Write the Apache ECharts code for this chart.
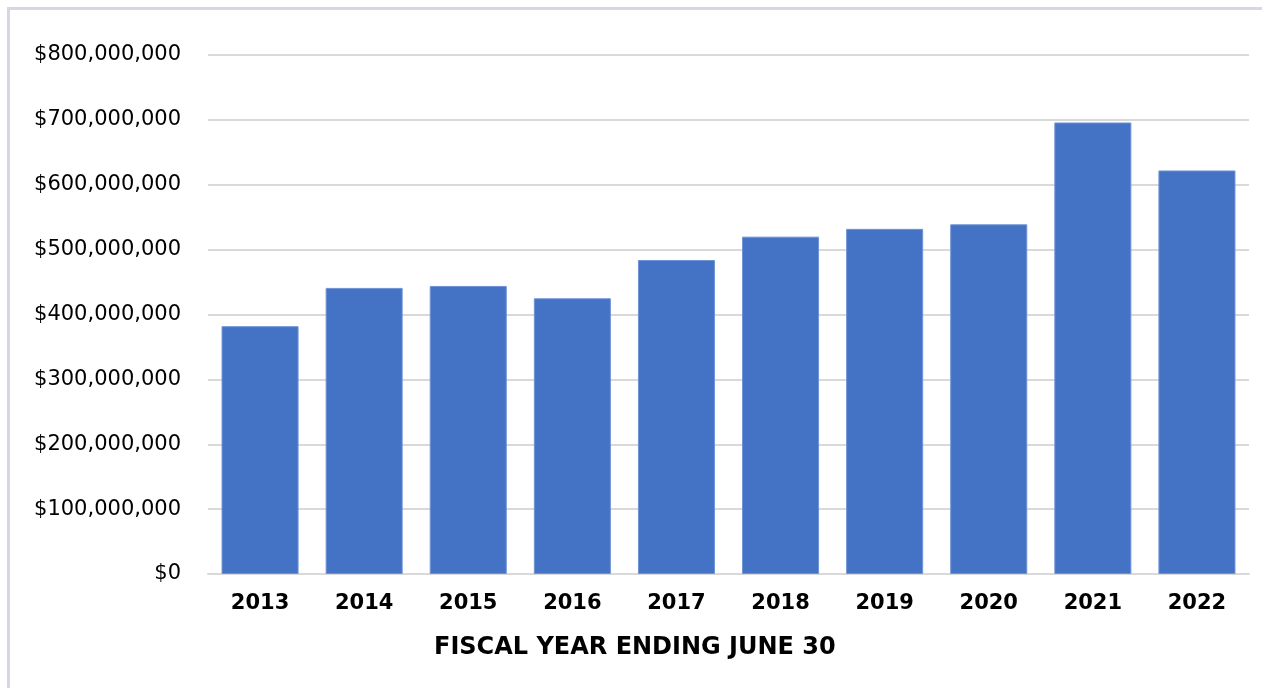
<!DOCTYPE html>
<html>
<head>
<meta charset="utf-8">
<script src="https://cdn.jsdelivr.net/npm/echarts@6/dist/echarts.min.js"></script>
<style>
  html, body { margin: 0; padding: 0; background: #ffffff; }
  #revenueChart { width: 1262px; height: 688px; }
</style>
</head>
<body>
<div id="revenueChart"></div>
<script>
// fiscal years and amounts (dollars)
var years = ["2013", "2014", "2015", "2016", "2017", "2018", "2019", "2020", "2021", "2022"];
var amounts = [382000000, 441000000, 444000000, 425000000, 484000000, 520000000, 532000000, 539000000, 696000000, 622000000];
var yTicks = [0, 100000000, 200000000, 300000000, 400000000, 500000000, 600000000, 700000000, 800000000];
var xTitle = "FISCAL YEAR ENDING JUNE 30";

function money(v) {
  return "$" + v.toString().replace(/\B(?=(\d{3})+(?!\d))/g, ",");
}

var myChart = echarts.init(document.getElementById("revenueChart"));
var option = {
  backgroundColor: "#ffffff",
  animation: false,
  title: {
    text: xTitle,
    left: 434,
    top: 636,
    padding: 0,
    textStyle: {
      fontFamily: "DejaVu Sans",
      fontSize: 24,
      fontWeight: "bold",
      color: "#000000"
    }
  },
  graphic: [
    { type: "rect", shape: { x: 7, y: 7, width: 1255, height: 3 }, style: { fill: "#d6d6e8" } },
    { type: "rect", shape: { x: 7, y: 7, width: 3, height: 681 }, style: { fill: "#d6d6e8" } }
  ],
  grid: {
    left: 208,
    right: 13,
    top: 55,
    bottom: 114
  },
  xAxis: {
    type: "category",
    data: years,
    axisTick: { show: false },
    axisLine: { lineStyle: { color: "#d9d9d9", width: 2 } },
    axisLabel: {
      margin: 19,
      fontFamily: "DejaVu Sans",
      fontSize: 21,
      fontWeight: "bold",
      color: "#000000"
    }
  },
  yAxis: {
    type: "value",
    min: 0,
    max: yTicks[yTicks.length - 1],
    interval: 100000000,
    axisLine: { show: false },
    axisTick: { show: false },
    splitLine: { lineStyle: { color: "#d9d9d9", width: 2 } },
    axisLabel: {
      margin: 27,
      fontFamily: "DejaVu Sans",
      fontSize: 21,
      color: "#000000",
      formatter: money
    }
  },
  series: [
    {
      type: "bar",
      data: amounts,
      barCategoryGap: "26%",
      itemStyle: { color: "#4472c4", borderColor: "#6f93d6", borderWidth: 1 }
    }
  ]
};
myChart.setOption(option);
</script>
</body>
</html>
